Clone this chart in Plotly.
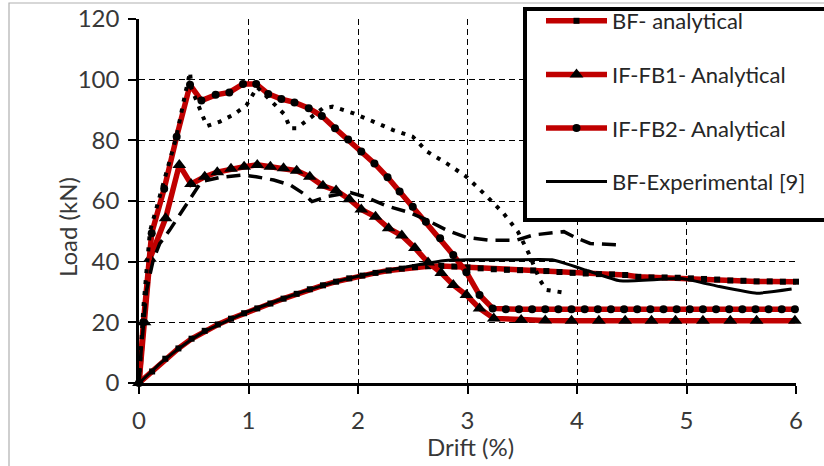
import plotly.graph_objects as go

# ---------------- data ----------------
bf_an_x = [0, 0.12, 0.24, 0.36, 0.48, 0.6, 0.72, 0.84, 0.96, 1.08, 1.2, 1.32, 1.44, 1.56, 1.68,
           1.8, 1.92, 2.04, 2.16, 2.28, 2.4, 2.52, 2.64, 2.76, 2.88, 3.0, 3.12, 3.24, 3.36, 3.48,
           3.6, 3.72, 3.84, 3.96, 4.08, 4.2, 4.32, 4.44, 4.56, 4.68, 4.8, 4.92, 5.04, 5.16, 5.28,
           5.4, 5.52, 5.64, 5.76, 5.88, 6.0]
bf_an_y = [0, 3.8, 8.0, 11.4, 14.6, 17.2, 19.3, 21.2, 23.0, 24.6, 26.2, 27.8, 29.4, 30.9, 32.2,
           33.4, 34.5, 35.4, 36.3, 37.1, 37.7, 38.2, 38.5, 38.6, 38.4, 38.1, 37.8, 37.5, 37.3, 37.2,
           37.1, 36.9, 36.6, 36.3, 36.1, 35.9, 35.8, 35.6, 35.0, 34.8, 34.8, 34.7, 34.5, 34.3, 34.1,
           33.8, 33.7, 33.5, 33.5, 33.4, 33.4]

fb1_an_x = [0, 0.05, 0.1, 0.243, 0.368, 0.475, 0.60, 0.715, 0.84, 0.96, 1.08, 1.20, 1.32, 1.44,
            1.56, 1.68, 1.80, 1.92, 2.03, 2.16, 2.28, 2.40, 2.52, 2.64, 2.76, 2.87, 2.99, 3.11,
            3.24, 3.49, 3.71, 3.95, 4.2, 4.44, 4.68, 4.90, 5.15, 5.40, 5.64, 5.99]
fb1_an_y = [0, 20, 41, 54.3, 71.9, 65.6, 68, 69.5, 70.6, 71.3, 71.9, 71.3, 70.8, 70, 68, 65, 63.5,
            60.6, 57.2, 54.8, 51, 48.6, 44.5, 39.7, 36.3, 32.3, 29, 24.6, 21.3, 20.8, 20.6, 20.5,
            20.5, 20.5, 20.5, 20.5, 20.5, 20.5, 20.5, 20.5]

fb2_an_x = [0, 0.04, 0.116, 0.23, 0.344, 0.466, 0.57, 0.70, 0.825, 0.95, 1.07, 1.18, 1.30, 1.42,
            1.55, 1.67, 1.79, 1.91, 2.03, 2.15, 2.27, 2.38, 2.50, 2.62, 2.75, 2.87, 2.99, 3.11,
            3.23, 3.35, 3.47, 3.59, 3.71, 3.83, 3.95, 4.07, 4.19, 4.31, 4.43, 4.55, 4.67, 4.79,
            4.91, 5.03, 5.15, 5.27, 5.39, 5.51, 5.63, 5.75, 5.87, 5.99]
fb2_an_y = [0, 20, 49.4, 64, 81.2, 98.3, 93.1, 95.0, 95.8, 98.6, 98.6, 95.3, 93.6, 92.5, 90.6,
            88.0, 84.0, 80.3, 76.3, 72.4, 67.8, 63.1, 58.1, 53.2, 47.7, 42.2, 36.5, 29.0, 24.6,
            24.3, 24.3, 24.3, 24.3, 24.3, 24.3, 24.3, 24.3, 24.3, 24.3, 24.3, 24.3, 24.3, 24.3,
            24.3, 24.3, 24.3, 24.3, 24.3, 24.3, 24.3, 24.3, 24.3]

bf_exp_x = [0, 0.1, 0.2, 0.3, 0.45, 0.6, 0.8, 1.0, 1.2, 1.4, 1.6, 1.8, 2.0, 2.2, 2.4, 2.6, 2.8,
            3.0, 3.4, 3.77, 4.1, 4.39, 4.97, 5.3, 5.64, 5.96]
bf_exp_y = [0, 3.3, 6.6, 9.6, 13.6, 17.0, 20.4, 23.6, 26.3, 28.9, 31.3, 33.4, 35.2, 36.7, 38.0,
            39.3, 40.4, 40.6, 40.6, 40.6, 37.0, 33.7, 34.4, 31.8, 29.6, 31.0]

fb1_exp_x = [0, 0.02, 0.07, 0.13, 0.19, 0.28, 0.37, 0.48, 0.57, 0.74, 0.95, 1.07, 1.23, 1.38,
             1.5, 1.58, 1.71, 1.93, 2.08, 2.26, 2.47, 2.63, 2.81, 2.99, 3.2, 3.45, 3.6, 3.88,
             4.0, 4.12, 4.38]
fb1_exp_y = [0, 10.9, 30.7, 40.6, 46, 50.4, 55.4, 61.4, 66.4, 67.8, 68.6, 68, 66.9, 65.3, 62.5,
             59.8, 61.4, 62.8, 61.2, 58.4, 56.2, 53.7, 50.4, 48, 47.1, 47.1, 48.8, 49.9, 47.7,
             46, 45.5]

fb2_exp_x = [0, 0.04, 0.1, 0.22, 0.34, 0.42, 0.466, 0.48, 0.56, 0.62, 0.74, 0.86, 0.98, 1.08,
             1.15, 1.26, 1.33, 1.38, 1.44, 1.52, 1.68, 1.77, 1.96, 2.14, 2.32, 2.5, 2.63, 2.81,
             2.99, 3.18, 3.33, 3.46, 3.56, 3.66, 3.72, 3.88]
fb2_exp_y = [0, 25, 50, 65, 81, 95, 102.5, 97, 90, 84.7, 86.2, 88.4, 91.5, 97.5, 95, 91, 88.5,
             84, 84, 86.2, 90.6, 91.1, 88.9, 86.2, 83.4, 81.2, 76.3, 72.4, 68, 61.4, 55.9, 49.9,
             42.7, 34, 30.7, 29.8]

x_ticks = [0, 1, 2, 3, 4, 5, 6]
y_ticks = [0, 20, 40, 60, 80, 100, 120]

RED = "#C00000"
TXT = "#383838"
FONT = "Lato"

fig = go.Figure()

fig.add_trace(go.Scatter(x=bf_an_x, y=bf_an_y, name="BF- analytical", mode="lines+markers",
                         line=dict(color=RED, width=5.5),
                         marker=dict(symbol="square", size=6, color="black"),
                         legendgroup="a", cliponaxis=False))
fig.add_trace(go.Scatter(x=fb1_an_x, y=fb1_an_y, name="IF-FB1- Analytical", mode="lines+markers",
                         line=dict(color=RED, width=5.5),
                         marker=dict(symbol="triangle-up", size=12, color="black"),
                         legendgroup="b", cliponaxis=False))
fig.add_trace(go.Scatter(x=fb2_an_x, y=fb2_an_y, name="IF-FB2- Analytical", mode="lines+markers",
                         line=dict(color=RED, width=5.5),
                         marker=dict(symbol="circle", size=8, color="black"),
                         legendgroup="c", cliponaxis=False))
fig.add_trace(go.Scatter(x=bf_exp_x, y=bf_exp_y, name="BF-Experimental [9]", mode="lines",
                         line=dict(color="black", width=3, shape="spline", smoothing=0.4),
                         legendgroup="d", cliponaxis=False))
fig.add_trace(go.Scatter(x=fb1_exp_x, y=fb1_exp_y, name="IF-FB1 exp", mode="lines",
                         line=dict(color="black", width=3.5, dash="14px,8px"),
                         showlegend=False, cliponaxis=False))
fig.add_trace(go.Scatter(x=fb2_exp_x, y=fb2_exp_y, name="IF-FB2 exp", mode="lines",
                         line=dict(color="black", width=4, dash="4px,7px"),
                         showlegend=False, cliponaxis=False))

# plot area in pixels: x 139..796, y 19..383
L, R, T, B = 139, 28, 19, 83
PW, PH = 824 - L - R, 466 - T - B


def px(xp):
    return (xp - L) / PW


def py(yp):
    return (466 - B - yp) / PH


grid = dict(showgrid=True, gridcolor="black", gridwidth=1.2, griddash="6px,4px",
            showline=True, linecolor="black", linewidth=2.5, ticks="outside",
            ticklen=8, tickwidth=2, tickcolor="black", zeroline=False, automargin=False,
            tickfont=dict(family=FONT, size=24, color=TXT))

fig.update_xaxes(range=[0, 6], tickvals=x_ticks, ticklabelstandoff=6, **grid)
fig.update_yaxes(range=[0, 120], tickvals=y_ticks, ticklabelstandoff=4, **grid)

fig.update_layout(
    width=824, height=466,
    margin=dict(l=L, r=R, t=T, b=B, autoexpand=False),
    paper_bgcolor="white", plot_bgcolor="white",
    font=dict(family=FONT, color=TXT),
    legend=dict(x=px(541), y=py(0), xanchor="left", yanchor="top",
                bgcolor="rgba(0,0,0,0)", borderwidth=0,
                font=dict(family=FONT, size=22, color="#262626"),
                itemwidth=61, tracegroupgap=22, traceorder="grouped"),
    shapes=[
        dict(type="rect", xref="paper", yref="paper", x0=px(9), x1=1.4, y0=-0.6, y1=py(3),
             line=dict(color="#b0b0b0", width=1.2), layer="below"),
        dict(type="rect", xref="paper", yref="paper", x0=px(525), x1=1.3, y0=py(220), y1=py(9),
             line=dict(color="black", width=4), fillcolor="white", layer="above"),
    ],
    annotations=[
        dict(text="Load (kN)", xref="paper", yref="paper", x=px(67), y=py(227),
             textangle=-90, showarrow=False, xanchor="center", yanchor="middle",
             font=dict(family=FONT, size=24, color=TXT)),
        dict(text="Drift (%)", xref="paper", yref="paper", x=px(470), y=py(446),
             showarrow=False, xanchor="center", yanchor="middle",
             font=dict(family=FONT, size=24, color=TXT)),
    ],
)

fig.write_html("out.html")
